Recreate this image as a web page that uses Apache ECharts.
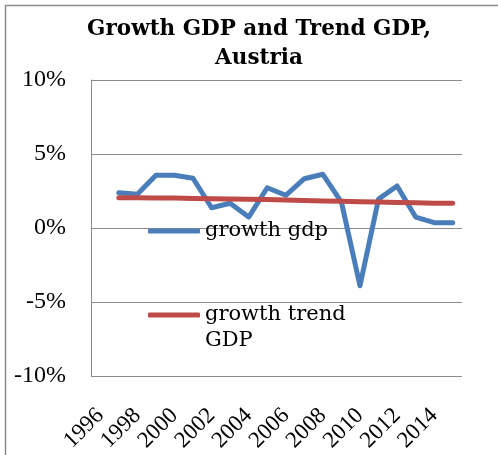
<!DOCTYPE html>
<html><head><meta charset="utf-8">
<script src="https://cdn.jsdelivr.net/npm/echarts@6/dist/echarts.min.js"></script>
<style>html,body{margin:0;padding:0;background:#fff}#c{width:498px;height:455px}</style>
</head><body><div id="c"></div>
<script>
const years = ['1996','1997','1998','1999','2000','2001','2002','2003','2004','2005','2006','2007','2008','2009','2010','2011','2012','2013','2014','2015'];
const growthGdp = [null, 2.38, 2.28, 3.56, 3.56, 3.36, 1.37, 1.67, 0.74, 2.72, 2.21, 3.33, 3.63, 1.75, -3.9, 1.95, 2.84, 0.74, 0.36, 0.36];
const growthTrend = [null, 2.05, 2.04, 2.03, 2.02, 2.00, 1.98, 1.96, 1.94, 1.92, 1.89, 1.86, 1.83, 1.80, 1.77, 1.75, 1.72, 1.70, 1.68, 1.67];
const yTicks = {min: -10, max: 10, step: 5};
const FONT = 'DejaVu Serif';
const NUMFONT = 'Liberation Serif';
const chart = echarts.init(document.getElementById('c'), null, {renderer: 'canvas'});
chart.setOption({
  animation: false,
  backgroundColor: '#fff',
  graphic: [{type: 'rect', shape: {x: 5.5, y: 5.5, width: 700, height: 700}, style: {fill: 'none', stroke: '#8c8c8c', lineWidth: 1.5}, silent: true}],
  title: {
    text: 'Growth GDP and Trend GDP,\nAustria', left: 259, textAlign: 'center', top: 15, padding: 0,
    textStyle: {fontFamily: FONT, fontWeight: 'bold', fontSize: 21.5, lineHeight: 29, color: '#000'}
  },
  grid: {left: 91, right: 36, top: 80, bottom: 79, containLabel: false},
  legend: [
    {data: ['growth gdp'], left: 143, top: 213, icon: 'roundRect', itemWidth: 52, itemHeight: 5,
     textStyle: {fontFamily: FONT, fontSize: 21, lineHeight: 26, color: '#000'}},
    {data: ['growth trend GDP'], left: 143, top: 271, icon: 'roundRect', itemWidth: 52, itemHeight: 5,
     formatter: () => '\ngrowth trend\nGDP',
     textStyle: {fontFamily: FONT, fontSize: 21, lineHeight: 26, color: '#000'}}
  ],
  xAxis: {
    type: 'category', data: years, boundaryGap: true,
    axisLine: {show: false}, axisTick: {show: false},
    axisLabel: {interval: 1, rotate: 45, margin: 36, fontFamily: NUMFONT, fontSize: 23, color: '#000'}
  },
  yAxis: {
    type: 'value', min: yTicks.min, max: yTicks.max, interval: yTicks.step,
    axisLine: {show: true, lineStyle: {color: '#8c8c8c', width: 1}}, axisTick: {show: false},
    splitLine: {lineStyle: {color: '#8c8c8c', width: 1}},
    axisLabel: {formatter: '{value}%', margin: 25, fontFamily: NUMFONT, fontSize: 24, color: '#000'}
  },
  series: [
    {name: 'growth gdp', type: 'line', data: growthGdp, symbol: 'none', color: '#4A7EBB',
     lineStyle: {width: 5, color: '#4A7EBB', cap: 'round', join: 'round'}},
    {name: 'growth trend GDP', type: 'line', data: growthTrend, symbol: 'none', color: '#BE4B48',
     lineStyle: {width: 5, color: '#BE4B48', cap: 'round', join: 'round'}}
  ]
});
</script></body></html>
